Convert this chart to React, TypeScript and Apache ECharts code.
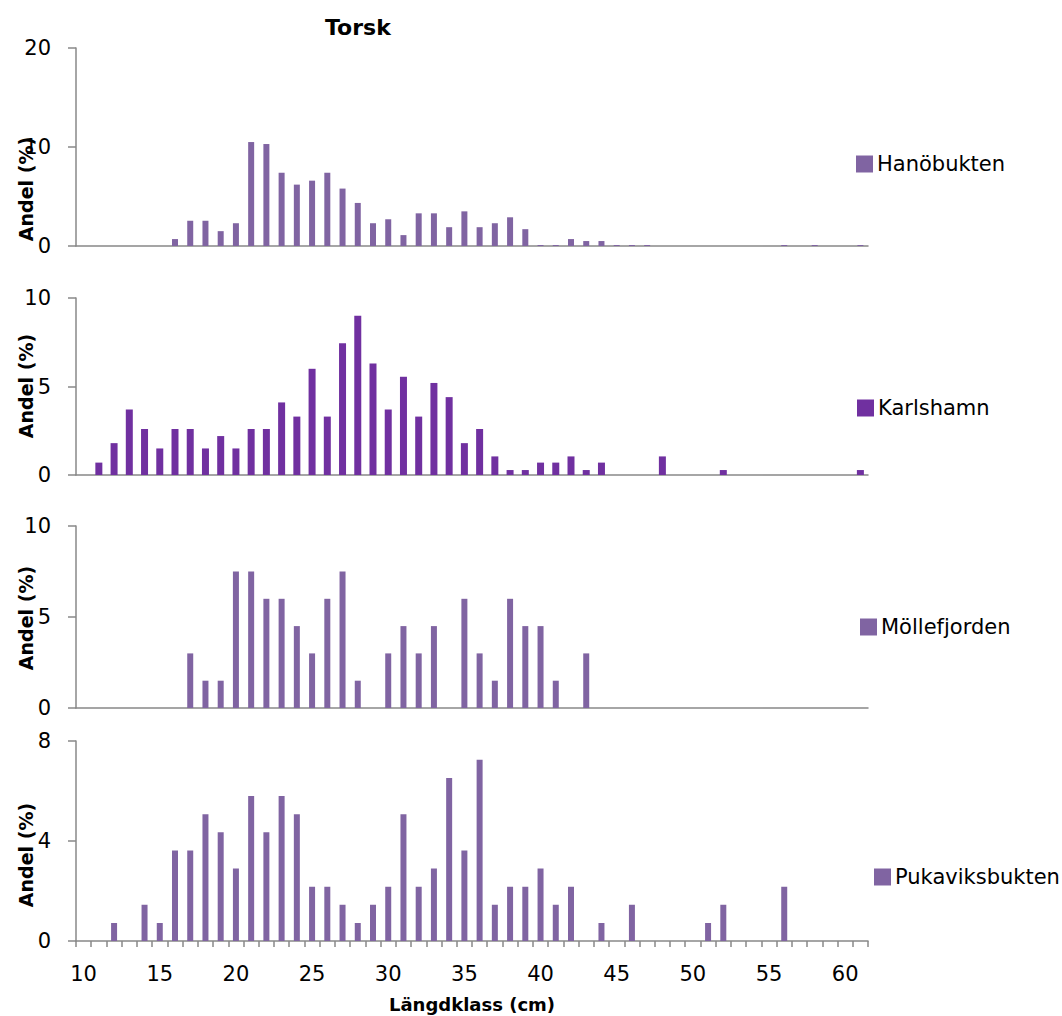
import React, { useEffect, useRef } from "react";
import * as echarts from "echarts";

const categories = [
  "10", "11", "12", "13", "14", "15", "16", "17", "18", "19",
  "20", "21", "22", "23", "24", "25", "26", "27", "28", "29",
  "30", "31", "32", "33", "34", "35", "36", "37", "38", "39",
  "40", "41", "42", "43", "44", "45", "46", "47", "48", "49",
  "50", "51", "52", "53", "54", "55", "56", "57", "58", "59",
  "60", "61",
];

// values per length class 10..61 cm
const hanobukten = [
  0, 0, 0, 0, 0, 0, 0.7, 2.55, 2.55, 1.5,
  2.3, 10.5, 10.3, 7.4, 6.2, 6.6, 7.4, 5.8, 4.35, 2.3,
  2.7, 1.1, 3.3, 3.3, 1.9, 3.5, 1.9, 2.3, 2.9, 1.7,
  0.1, 0.1, 0.7, 0.5, 0.5, 0.1, 0.1, 0.1, 0, 0,
  0, 0, 0, 0, 0, 0, 0.1, 0, 0.1, 0,
  0, 0.1,
];

const karlshamn = [
  0, 0.7, 1.8, 3.7, 2.6, 1.5, 2.6, 2.6, 1.5, 2.2,
  1.5, 2.6, 2.6, 4.1, 3.3, 6.0, 3.3, 7.45, 9.0, 6.3,
  3.7, 5.55, 3.3, 5.2, 4.4, 1.8, 2.6, 1.05, 0.28, 0.28,
  0.7, 0.7, 1.05, 0.28, 0.7, 0, 0, 0, 1.05, 0,
  0, 0, 0.28, 0, 0, 0, 0, 0, 0, 0,
  0, 0.28,
];

const mollefjorden = [
  0, 0, 0, 0, 0, 0, 0, 3.0, 1.5, 1.5,
  7.5, 7.5, 6.0, 6.0, 4.5, 3.0, 6.0, 7.5, 1.5, 0,
  3.0, 4.5, 3.0, 4.5, 0, 6.0, 3.0, 1.5, 6.0, 4.5,
  4.5, 1.5, 0, 3.0, 0, 0, 0, 0, 0, 0,
  0, 0, 0, 0, 0, 0, 0, 0, 0, 0,
  0, 0,
];

const pukaviksbukten = [
  0, 0, 0.72, 0, 1.45, 0.72, 3.62, 3.62, 5.07, 4.35,
  2.9, 5.8, 4.35, 5.8, 5.07, 2.17, 2.17, 1.45, 0.72, 1.45,
  2.17, 5.07, 2.17, 2.9, 6.52, 3.62, 7.25, 1.45, 2.17, 2.17,
  2.9, 1.45, 2.17, 0, 0.72, 0, 1.45, 0, 0, 0,
  0, 0.72, 1.45, 0, 0, 0, 2.17, 0, 0, 0,
  0, 0,
];

const seriesNames = ["Hanöbukten", "Karlshamn", "Möllefjorden", "Pukaviksbukten"];
const seriesData = [hanobukten, karlshamn, mollefjorden, pukaviksbukten];
const yMax = [20, 10, 10, 8];
const yInterval = [10, 5, 5, 4];

const colors = ["#8064A2", "#7030A0", "#8064A2", "#8064A2"];
const barWidths = [6, 7, 6, 6];
const gridTops = [48, 298, 526, 741];
const gridBottoms = [246, 475, 708, 941];
const yNameCenters = [189, 386, 618, 855];
const legendPos = [
  { left: 856, cy: 164 },
  { left: 857, cy: 408 },
  { left: 860, cy: 627 },
  { left: 874, cy: 877 },
];

const FONT = "DejaVu Sans";
const AXIS_COLOR = "#888888";
const H = 1016;

export default function App() {
  const ref = useRef<HTMLDivElement>(null);

  useEffect(() => {
    if (!ref.current) return;
    const chart = echarts.init(ref.current, undefined, { renderer: "svg" });

    const grids = gridTops.map((t, i) => ({
      left: 76,
      right: 194,
      top: t,
      height: gridBottoms[i] - t,
      containLabel: false,
    }));

    const xAxes = seriesNames.map((_, i) => {
      const last = i === seriesNames.length - 1;
      return {
        type: "category",
        gridIndex: i,
        data: categories,
        boundaryGap: true,
        axisLine: { show: true, lineStyle: { color: AXIS_COLOR, width: 1.5 } },
        axisTick: {
          show: last,
          interval: 0,
          length: 6,
          lineStyle: { color: AXIS_COLOR, width: 1.5 },
        },
        axisLabel: {
          show: last,
          interval: 4,
          margin: 22,
          color: "#000",
          fontFamily: FONT,
          fontSize: 21,
        },
        splitLine: { show: false },
        name: last ? "Längdklass (cm)" : "",
        nameLocation: "middle",
        nameGap: 54,
        nameTextStyle: {
          color: "#000",
          fontFamily: FONT,
          fontSize: 18,
          fontWeight: "bold",
          padding: [0, 0, 0, 0],
        },
      };
    });

    const yAxes = seriesNames.map((_, i) => ({
      type: "value",
      gridIndex: i,
      min: 0,
      max: yMax[i],
      interval: yInterval[i],
      axisLine: { show: true, lineStyle: { color: AXIS_COLOR, width: 1.5 } },
      axisTick: { show: true, length: 8, lineStyle: { color: AXIS_COLOR, width: 1.5 } },
      axisLabel: {
        margin: 25,
        color: "#000",
        fontFamily: FONT,
        fontSize: 21,
      },
      splitLine: { show: false },
    }));

    const series = seriesNames.map((name, i) => ({
      type: "bar",
      name,
      xAxisIndex: i,
      yAxisIndex: i,
      data: seriesData[i],
      barWidth: barWidths[i],
      itemStyle: { color: colors[i] },
    }));

    const legends = seriesNames.map((name, i) => ({
      data: [name],
      left: legendPos[i].left,
      top: legendPos[i].cy - 11,
      padding: 0,
      icon: "rect",
      itemWidth: 17,
      itemHeight: 17,
      itemGap: 0,
      selectedMode: false,
      textStyle: {
        color: "#000",
        fontFamily: FONT,
        fontSize: 21,
        lineHeight: 22,
        padding: [0, 0, 0, -1],
      },
    }));

    const graphics: any[] = [
      {
        type: "text",
        left: 360 - 35,
        top: 16,
        style: {
          text: "Torsk",
          fill: "#000",
          font: `bold 22px "${FONT}"`,
        },
      },
      ...yNameCenters.map((cy) => ({
        type: "text",
        x: 26,
        y: cy,
        rotation: Math.PI / 2,
        style: {
          text: "Andel (%)",
          fill: "#000",
          font: `bold 19px "${FONT}"`,
          align: "center",
          verticalAlign: "middle",
        },
      })),
    ];

    chart.setOption({
      animation: false,
      backgroundColor: "#ffffff",
      grid: grids,
      xAxis: xAxes,
      yAxis: yAxes,
      series,
      legend: legends,
      graphic: graphics,
    });

    return () => chart.dispose();
  }, []);

  return (
    <div
      ref={ref}
      style={{ width: 1062, height: H, position: "absolute", left: 0, top: 0 }}
    />
  );
}
